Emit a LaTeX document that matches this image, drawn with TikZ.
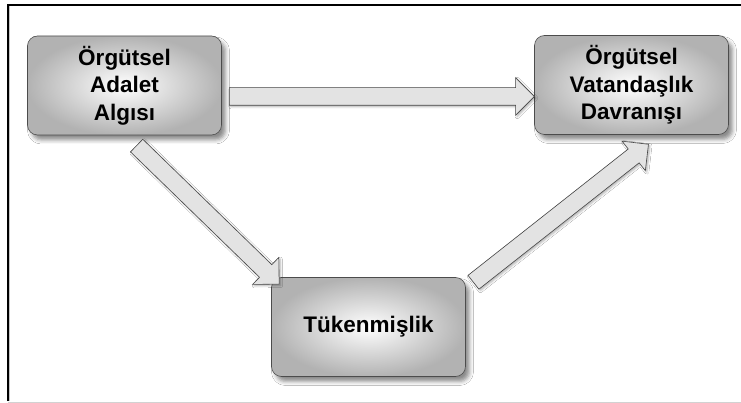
\documentclass[tikz,border=0pt]{standalone}
\usepackage{fontspec}
\setmainfont{Liberation Sans}
\usetikzlibrary{shapes.arrows,calc,shadows.blur}
\newcommand\fatarrow[2]{%
  \path let \p1=($(#2)-(#1)$), \n1={atan2(\y1,\x1)}, \n2={veclen(\x1,\y1)} in
    node[fatarr, minimum height=\n2, rotate=\n1] at ($(#1)!0.5!(#2)$) {};}
\begin{document}
\begin{tikzpicture}[x=1pt,y=-1pt,
  box/.style={rounded corners=10pt, minimum width=194pt, minimum height=99pt,
    draw=gray!60!black, line width=0.6pt, shade, inner color=white, outer color=gray!60,
    blur shadow={shadow xshift=4pt, shadow yshift=-5pt, shadow blur radius=4pt, shadow opacity=45},
    align=center, font=\fontsize{22.5}{27.5}\selectfont\bfseries},
  fatarr/.style={single arrow, draw=gray!55!black, fill=gray!22, inner xsep=0pt, inner ysep=8.5pt,
    single arrow head extend=10pt, single arrow tip angle=90, line width=0.6pt,
    blur shadow={shadow xshift=1.5pt, shadow yshift=-1.5pt, shadow blur radius=2pt, shadow opacity=30}}
]
\useasboundingbox (0,0) rectangle (741,403);
\fill[white] (0,0) rectangle (741,403);
% frame
\draw[gray!45, line width=1pt] (9.8,6) -- (9.8,401);
\draw[line width=2pt] (8,401) -- (8,5) -- (741,5);
\draw[gray!35, line width=1pt] (8,402) -- (741,402);
% boxes
\node[box] (oaa) at (124.5,85.5) {Örgütsel\\Adalet\\Algısı};
\node[box] (ovd) at (631.5,85) {Örgütsel\\Vatandaşlık\\Davranışı};
\node[box] (tuk) at (368.5,327) {Tükenmişlik};
% arrow ends
\coordinate (a1s) at (225,96.5);
\coordinate (a1e) at (530,96.5);
\coordinate (a2s) at (133.5,142.5);
\coordinate (a2e) at (276,281);
\coordinate (a3s) at (470,285);
\coordinate (a3e) at (645,147);
\fatarrow{a1s}{a1e}
\fatarrow{a2s}{a2e}
\fatarrow{a3s}{a3e}
\end{tikzpicture}
\end{document}
